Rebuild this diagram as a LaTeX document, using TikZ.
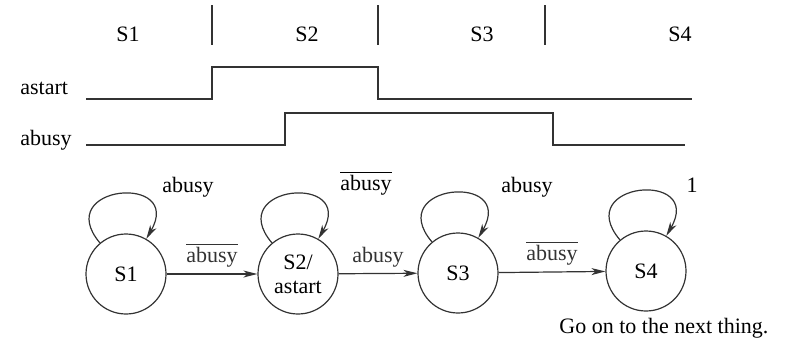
\documentclass[tikz,border=0pt]{standalone}
\usepackage{fontspec}
\setmainfont{Liberation Serif}
\usetikzlibrary{arrows.meta,positioning}
\definecolor{cline}{HTML}{333333}
\tikzset{
  lbl/.style     ={font=\fontsize{11}{13}\selectfont,inner sep=1pt},
  sig/.style     ={cline,line width=0.8pt},
  state/.style   ={circle,draw=cline,line width=0.6pt,minimum size=40pt,
                   inner sep=0pt,align=center,font=\fontsize{11}{12}\selectfont},
  arr/.style     ={-{Stealth[length=7pt,width=3.5pt,inset=2pt]},cline,line width=0.6pt},
  selfloop/.style={arr,out=130,in=60,distance=38pt},
}
\newcommand{\notbusy}{$\overline{\mbox{abusy}}$}

\begin{document}
\begin{tikzpicture}[x=0.5pt,y=-0.5pt]
 \useasboundingbox (0,0) rectangle (802,343);
 % state names over the timing diagram
 \node[lbl] (t1) at (128,34) {S1};
 \node[lbl] (t2) at (307,34) {S2};
 \node[lbl] (t3) at (482,34) {S3};
 \node[lbl] (t4) at (680,34) {S4};
 \foreach \x in {212,378,545}
   \draw[sig] (\x,5) -- (\x,45);
 % waveforms
 \node[lbl,anchor=west] (astart) at (18,88) {astart};
 \node[lbl,anchor=west] (abusy) at (18,140) {abusy};
 \draw[sig] (86,99) -- (212,99) -- (212,67) -- (378,67) -- (378,99) -- (692,99);
 \draw[sig] (86,145) -- (285,145) -- (285,113) -- (553,113) -- (553,145) -- (685,145);
 % state machine
 \node[state] (s1) at (126,274) {S1};
 \node[state] (s2) at (298,274) {S2/\\astart};
 \node[state] (s3) at (458,273) {S3};
 \node[state] (s4) at (646,271) {S4};
 \draw[arr] (s1) -- (s2) node[lbl,midway,above=2pt] (e12) {\notbusy};
 \draw[arr] (s2) -- (s3) node[lbl,midway,above=2pt] (e23) {abusy};
 \draw[arr] (s3) -- (s4) node[lbl,midway,above=2pt] (e34) {\notbusy};
 \draw[selfloop] (s1) to (s1);
 \draw[selfloop] (s2) to (s2);
 \draw[selfloop] (s3) to (s3);
 \draw[selfloop] (s4) to (s4);
 \node[lbl] (l1) at (188,187) {abusy};
 \node[lbl] (l2) at (366,183) {\notbusy};
 \node[lbl] (l3) at (527,187) {abusy};
 \node[lbl] (l4) at (692,185) {1};
 \node[lbl,anchor=west] (next) at (557,328) {Go on to the next thing.};
\end{tikzpicture}
\end{document}
